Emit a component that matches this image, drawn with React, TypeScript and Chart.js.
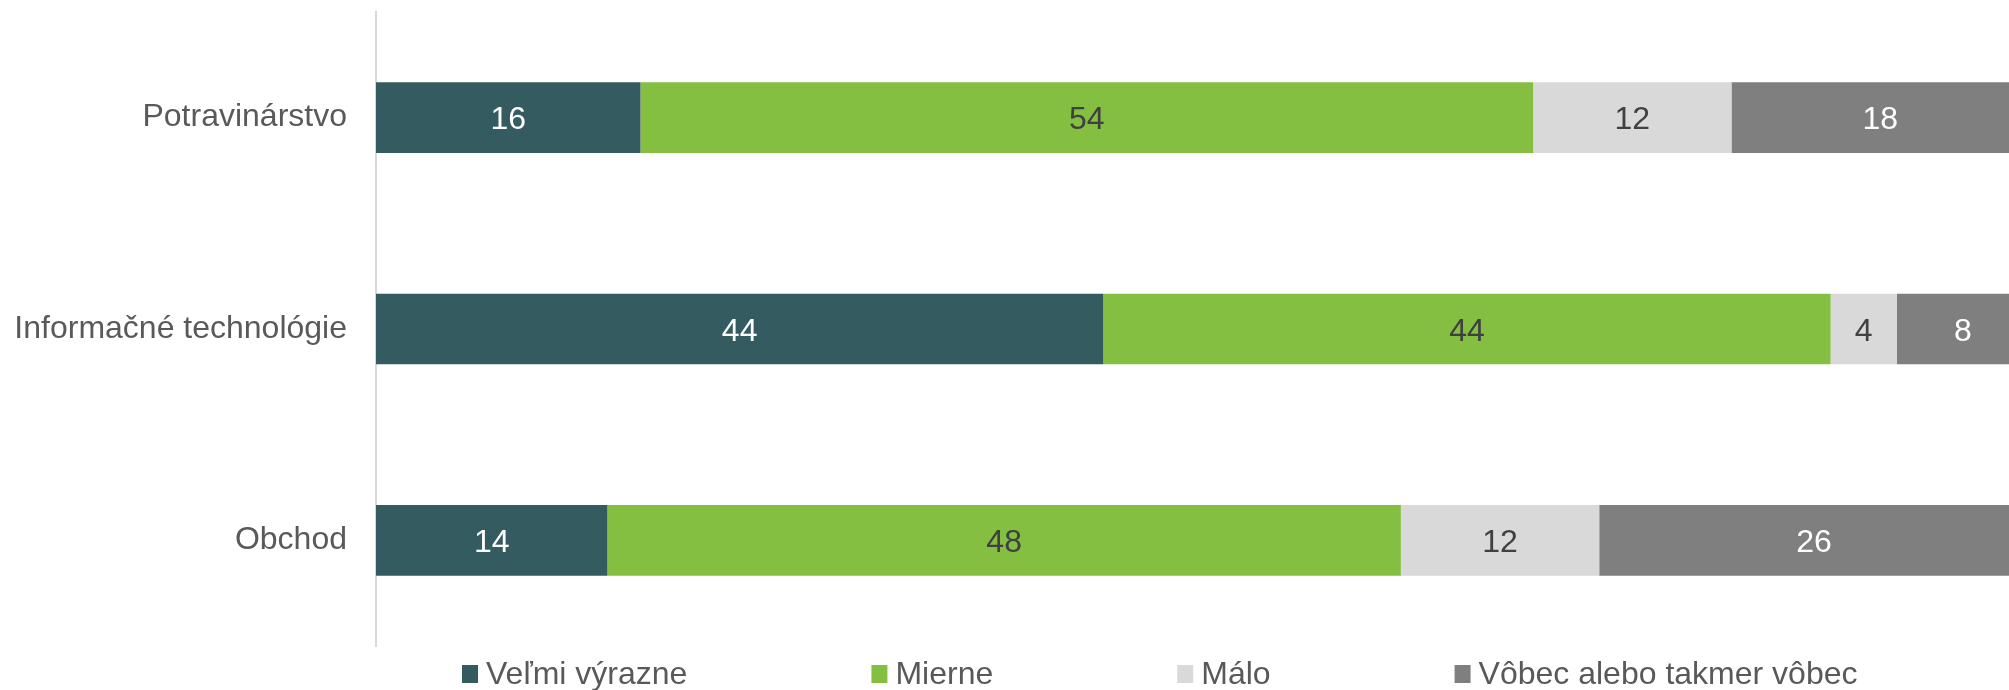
import React, { useEffect, useRef } from "react";
import { Chart, registerables } from "chart.js";

Chart.register(...registerables);

const categories = ["Potravinárstvo", "Informačné technológie", "Obchod"];
const seriesNames = ["Veľmi výrazne", "Mierne", "Málo", "Vôbec alebo takmer vôbec"];
const velmiVyrazne = [16, 44, 14];
const mierne = [54, 44, 48];
const malo = [12, 4, 12];
const vobec = [18, 8, 26];

const seriesColors = ["#345B60", "#84BF41", "#D9D9D9", "#7F7F7F"];
const labelColors = ["#FFFFFF", "#404040", "#404040", "#FFFFFF"];

const FONT = "'Liberation Sans', Arial, sans-serif";

const dataLabelPlugin = {
  id: "segLabels",
  afterDatasetsDraw(chart: any) {
    const ctx = chart.ctx;
    ctx.save();
    ctx.font = `32px ${FONT}`;
    ctx.textAlign = "center";
    ctx.textBaseline = "middle";
    chart.data.datasets.forEach((ds: any, di: number) => {
      const meta = chart.getDatasetMeta(di);
      meta.data.forEach((el: any, i: number) => {
        const v = ds.data[i];
        const props = el.getProps(["x", "y", "base"], true);
        const cx = (props.x + props.base) / 2;
        ctx.fillStyle = labelColors[di];
        ctx.fillText(String(v), cx, props.y + 3);
      });
    });
    ctx.restore();
  },
};

const legendPlugin = {
  id: "customLegend",
  afterDraw(chart: any) {
    const ctx = chart.ctx;
    ctx.save();
    ctx.font = `32px ${FONT}`;
    ctx.textBaseline = "alphabetic";
    ctx.textAlign = "left";
    let x = 462;
    const baseline = 684;
    chart.data.datasets.forEach((ds: any) => {
      ctx.fillStyle = ds.backgroundColor;
      ctx.fillRect(x, 665, 16, 18);
      ctx.fillStyle = "#595959";
      ctx.fillText(ds.label, x + 24, baseline);
      const w = ctx.measureText(ds.label).width;
      x += 24 + w + 184;
    });
    ctx.restore();
  },
};

export default function App() {
  const ref = useRef<HTMLCanvasElement | null>(null);
  useEffect(() => {
    document.body.style.margin = "0";
    document.body.style.overflow = "hidden";
    if (!ref.current) return;
    const values = [velmiVyrazne, mierne, malo, vobec];
    const chart = new Chart(ref.current, {
      type: "bar",
      data: {
        labels: categories,
        datasets: seriesNames.map((name, i) => ({
          label: name,
          data: values[i],
          backgroundColor: seriesColors[i],
          borderWidth: 0,
          barPercentage: 1,
          categoryPercentage: 0.334,
        })),
      },
      options: {
        indexAxis: "y",
        responsive: false,
        animation: false,
        layout: { padding: { top: 12, bottom: 44, left: 0, right: 0 } },
        plugins: {
          legend: { display: false },
          tooltip: { enabled: false },
        },
        scales: {
          x: {
            stacked: true,
            display: false,
            min: 0,
            max: 100,
          },
          y: {
            stacked: true,
            grid: { display: false, drawTicks: false },
            border: { display: true, color: "#D9D9D9", width: 2 },
            ticks: {
              color: "#595959",
              font: { family: FONT, size: 32 },
              padding: 29,
            },
            afterFit: (scale: any) => {
              scale.width = 376;
              scale.paddingTop = 0;
              scale.paddingBottom = 0;
            },
          },
        },
      },
      plugins: [dataLabelPlugin, legendPlugin],
    });
    return () => chart.destroy();
  }, []);
  return (
    <div style={{ width: 2009, height: 690, overflow: "hidden", background: "#fff" }}>
      <canvas ref={ref} width={2029} height={690} style={{ display: "block" }} />
    </div>
  );
}
